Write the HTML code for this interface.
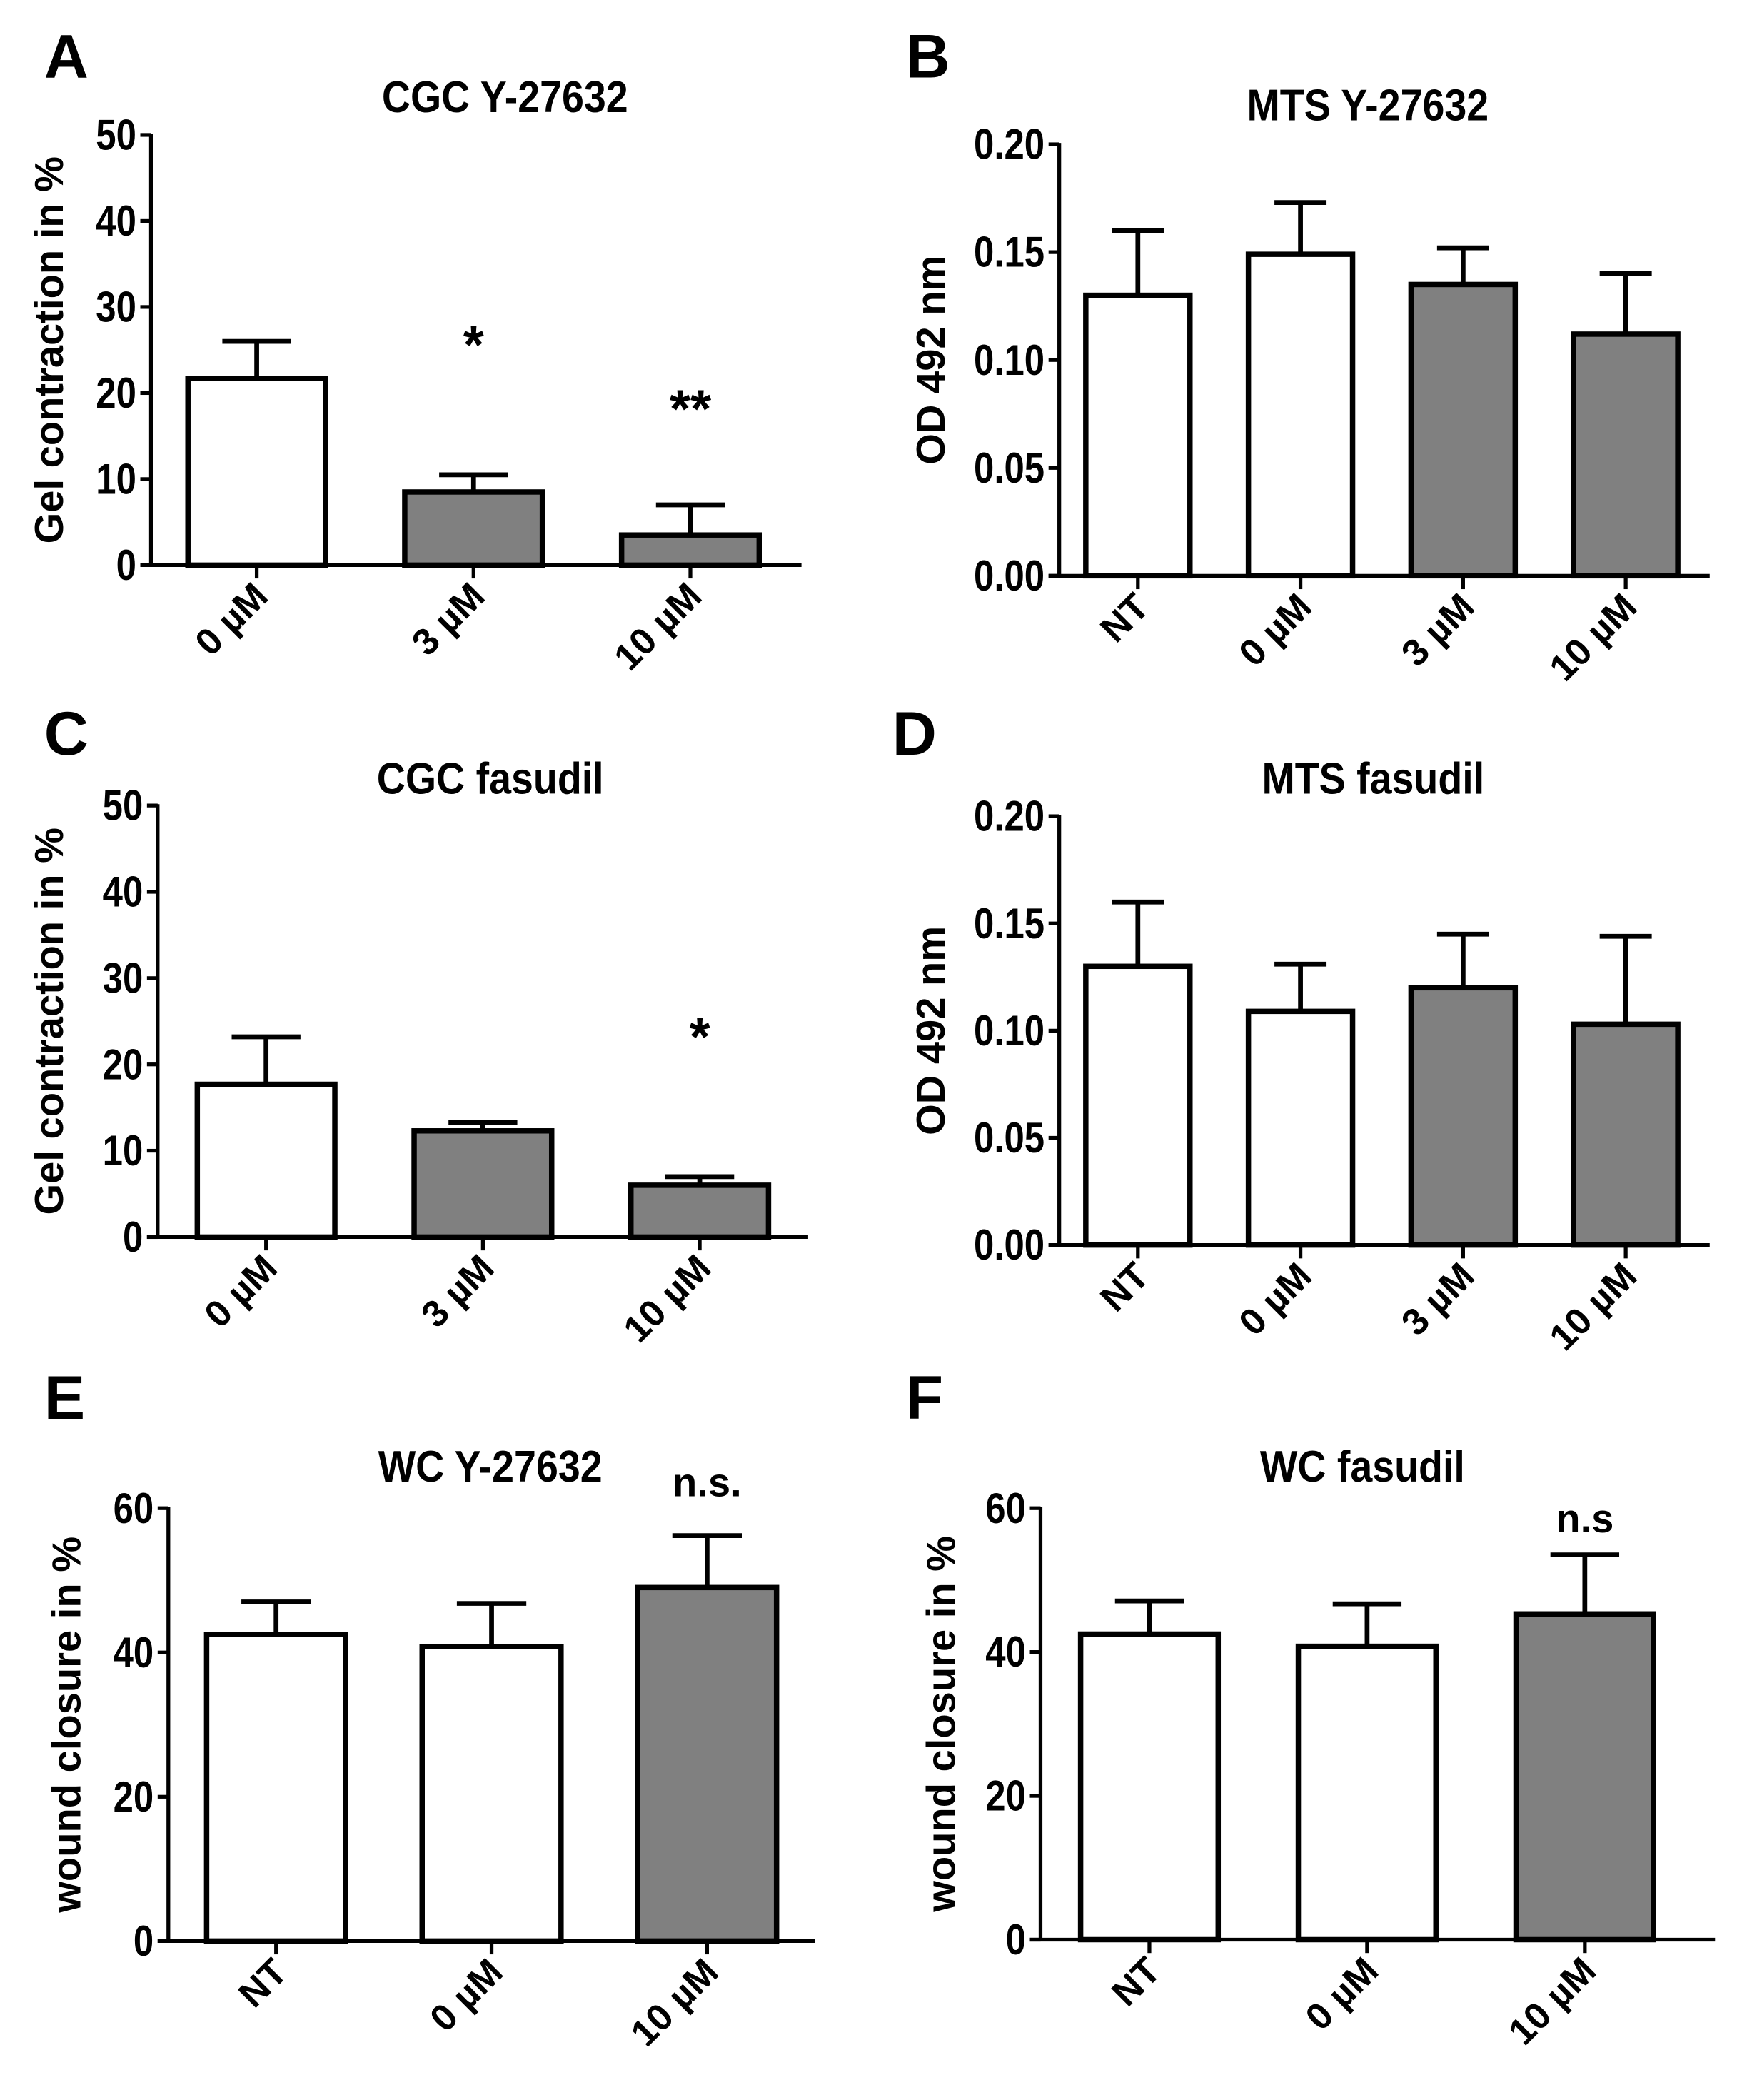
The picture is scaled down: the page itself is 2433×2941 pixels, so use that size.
<!DOCTYPE html>
<html><head><meta charset="utf-8">
<style>
html,body{margin:0;padding:0;background:#fff;}
svg{display:block;}
text{font-family:"Liberation Sans Narrow","Liberation Sans",Arial,sans-serif;font-weight:bold;fill:#000;}
</style></head>
<body>
<svg id="fig" xmlns="http://www.w3.org/2000/svg" width="2433" height="2941" viewBox="0 0 1300.4 1572"></svg>
<script>
// Panel A
const catsA = ["0 µM","3 µM","10 µM"];
const valsA = [21.7, 8.5, 3.5];
const errA = [26.0, 10.5, 7.0];
const fillA = ["white","gray","gray"];
const ticksA = [0,10,20,30,40,50];
// Panel B
const catsB = ["NT","0 µM","3 µM","10 µM"];
const valsB = [0.130, 0.149, 0.135, 0.112];
const errB = [0.160, 0.173, 0.152, 0.140];
const fillB = ["white","white","gray","gray"];
const ticksB = ["0.00","0.05","0.10","0.15","0.20"];
// Panel C
const catsC = ["0 µM","3 µM","10 µM"];
const valsC = [17.7, 12.3, 6.0];
const errC = [23.2, 13.3, 7.0];
const fillC = ["white","gray","gray"];
const ticksC = [0,10,20,30,40,50];
// Panel D
const catsD = ["NT","0 µM","3 µM","10 µM"];
const valsD = [0.130, 0.109, 0.120, 0.103];
const errD = [0.160, 0.131, 0.145, 0.144];
const fillD = ["white","white","gray","gray"];
const ticksD = ["0.00","0.05","0.10","0.15","0.20"];
// Panel E
const catsE = ["NT","0 µM","10 µM"];
const valsE = [42.5, 40.8, 49.0];
const errE = [47.0, 46.8, 56.2];
const fillE = ["white","white","gray"];
const ticksE = [0,20,40,60];
// Panel F
const catsF = ["NT","0 µM","10 µM"];
const valsF = [42.5, 40.8, 45.3];
const errF = [47.1, 46.7, 53.5];
const fillF = ["white","white","gray"];
const ticksF = [0,20,40,60];

const NS = "http://www.w3.org/2000/svg";
const svg = document.getElementById("fig");
function mk(tag, attrs, parent){
  const e = document.createElementNS(NS, tag);
  for (const k in attrs) e.setAttribute(k, attrs[k]);
  (parent||svg).appendChild(e);
  return e;
}
function panel(p){
  const g = mk("g", {});
  
  
  const ticks = p.ticks.map(Number);
  const ymax = ticks[ticks.length-1];
  const y = v => p.y0 - (v/ymax)*(p.y0 - p.ytop);
  const n = p.cats.length;
  const step = p.step || (p.xend - p.ax) / n;
  const cx = i => p.ax + step*(i+0.5) + p.shift;
  const L = mk("text", {x:p.lx, y:p.ly, "font-size":46, "font-family":"Liberation Sans, sans-serif"}, g);
  L.textContent = p.id;
  
  
  const T = mk("text", {x:0, y:0, "font-size":33, "text-anchor":"middle", transform:`translate(${p.tx},${p.ty}) scale(0.9,1)`}, g);
  T.textContent = p.title;
  
  
  const yl = mk("text", {x:0, y:0, "font-size":30, "text-anchor":"middle", "font-family":"Liberation Sans, sans-serif",
    transform:`translate(${p.ylx},${(p.y0+p.ytop)/2}) rotate(-90)`}, g);
  yl.textContent = p.ylabel;
  
  
  p.vals.forEach((v,i)=>{
    const c = cx(i);
    const e = mk("line", {x1:c, x2:c, y1:y(v), y2:y(p.err[i]), stroke:"#000", "stroke-width":3.6}, g);
    
    
    const cap = mk("line", {x1:c-p.bw*0.25, x2:c+p.bw*0.25, y1:y(p.err[i]), y2:y(p.err[i]), stroke:"#000", "stroke-width":3.6}, g);
    
    
    const r = mk("rect", {x:c-p.bw/2, y:y(v), width:p.bw, height:p.y0-y(v),
      fill:p.fill[i]==="gray"?"#808080":"#fff", stroke:"#000", "stroke-width":4}, g);
    
    
  });
  const ya = mk("line", {x1:p.ax, x2:p.ax, y1:p.ytop-1, y2:p.y0+1, stroke:"#000", "stroke-width":2.8}, g);
  
  
  const xa = mk("line", {x1:p.ax-8, x2:p.xend, y1:p.y0, y2:p.y0, stroke:"#000", "stroke-width":2.8}, g);
  
  
  p.ticks.forEach(t=>{
    const yy = y(Number(t));
    const tl = mk("line", {x1:p.ax-8, x2:p.ax, y1:yy, y2:yy, stroke:"#000", "stroke-width":2.8}, g);
    
    
    const tt = mk("text", {x:0, y:0, "font-size":32, "text-anchor":"end", transform:`translate(${p.ax-11},${yy+11}) scale(0.85,1)`}, g);
    tt.textContent = t;
    
    
  });
  p.cats.forEach((c,i)=>{
    const x = cx(i);
    const tl = mk("line", {x1:x, x2:x, y1:p.y0, y2:p.y0+10, stroke:"#000", "stroke-width":2.8}, g);
    
    
    const tt = mk("text", {x:0, y:0, "font-size":28, "text-anchor":"end", "font-family":"Liberation Sans, sans-serif",
      transform:`translate(${x+10},${p.y0+25}) rotate(-45)`}, g);
    tt.textContent = c;
    
    
  });
  (p.ann||[]).forEach(a=>{
    const at = mk("text", {x:cx(a.i), y:a.y, "font-size":a.s, "text-anchor":"middle", "font-family":"Liberation Sans, sans-serif"}, g);
    at.textContent = a.t;
    
    
  });
}
panel({id:"A", title:"CGC Y-27632", ylabel:"Gel contraction in %", cats:catsA, vals:valsA, err:errA, fill:fillA, ticks:ticksA,
  ax:113, ytop:101, y0:423, xend:600, shift:-2, bw:103, lx:33, ly:58, tx:378, ty:84, ylx:47,
  ann:[{i:1,t:"*",y:272,s:40},{i:2,t:"**",y:320,s:40}]});
panel({id:"B", title:"MTS Y-27632", ylabel:"OD 492 nm", cats:catsB, vals:valsB, err:errB, fill:fillB, ticks:ticksB,
  ax:793, ytop:108, y0:431, xend:1280, shift:-2, bw:78, lx:678, ly:58, tx:1024, ty:90, ylx:707});
panel({id:"C", title:"CGC fasudil", ylabel:"Gel contraction in %", cats:catsC, vals:valsC, err:errC, fill:fillC, ticks:ticksC,
  ax:118, ytop:603, y0:926, xend:605, shift:0, bw:103, lx:33, ly:565, tx:367, ty:594, ylx:47,
  ann:[{i:2,t:"*",y:790,s:40}]});
panel({id:"D", title:"MTS fasudil", ylabel:"OD 492 nm", cats:catsD, vals:valsD, err:errD, fill:fillD, ticks:ticksD,
  ax:793, ytop:611, y0:932, xend:1280, shift:-2, bw:78, lx:668, ly:565, tx:1028, ty:594, ylx:707});
panel({id:"E", title:"WC Y-27632", ylabel:"wound closure in %", cats:catsE, vals:valsE, err:errE, fill:fillE, ticks:ticksE,
  ax:126, ytop:1129, y0:1453, xend:610, shift:0, bw:104, lx:33, ly:1062, tx:367, ty:1109, ylx:60,
  ann:[{i:2,t:"n.s.",y:1120,s:30}]});
panel({id:"F", title:"WC fasudil", ylabel:"wound closure in %", cats:catsF, vals:valsF, err:errF, fill:fillF, ticks:ticksF,
  ax:779, ytop:1129, y0:1452, xend:1284, step:163, shift:0, bw:103, lx:678, ly:1062, tx:1020, ty:1109, ylx:715,
  ann:[{i:2,t:"n.s",y:1147,s:30}]});
</script>
</body></html>
